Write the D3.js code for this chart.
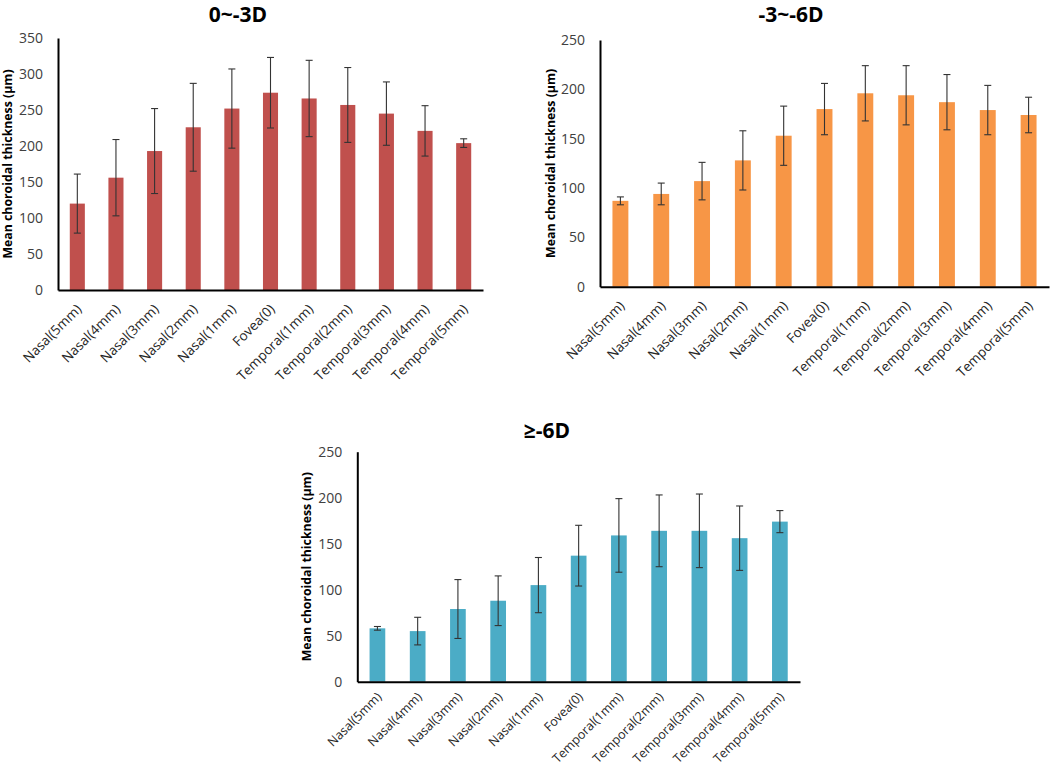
<!DOCTYPE html>
<html>
<head>
<meta charset="utf-8">
<script src="https://cdn.jsdelivr.net/npm/d3@7"></script>
<style>
  html, body { margin: 0; padding: 0; background: #ffffff; }
  svg { display: block; }
</style>
</head>
<body>
<svg id="chart" width="1050" height="774"></svg>
<script>
// ---------- data ----------
const categories = ["Nasal(5mm)", "Nasal(4mm)", "Nasal(3mm)", "Nasal(2mm)", "Nasal(1mm)",
  "Fovea(0)", "Temporal(1mm)", "Temporal(2mm)", "Temporal(3mm)", "Temporal(4mm)", "Temporal(5mm)"];

const mean0to3 = [120, 156, 193, 226, 252, 274, 266, 257, 245, 221, 204];
const sd0to3   = [41, 53, 59, 61, 55, 49, 53, 52, 44, 35, 6];

const mean3to6 = [87, 94, 107, 128, 153, 180, 196, 194, 187, 179, 174];
const sd3to6   = [4, 11, 19, 30, 30, 26, 28, 30, 28, 25, 18];

const mean6    = [58, 55, 79, 88, 105, 137, 159, 164, 164, 156, 174];
const sd6      = [2, 15, 32, 27, 30, 33, 40, 39, 40, 35, 12];

const ticks350 = [0, 50, 100, 150, 200, 250, 300, 350];
const ticks250 = [0, 50, 100, 150, 200, 250];

const titles = ["0~-3D", "-3~-6D", "\u2265-6D"];
const yLabel = "Mean choroidal thickness (\u00b5m)";

// ---------- layout ----------
const panels = [
  { title: titles[0], mean: mean0to3, sd: sd0to3, ticks: ticks350, color: "#C0504D",
    x0: 58, x1: 483, yTop: 38, yZero: 290, titleX: 238, titleY: 22, ylabX: 8, lab: 13.5, labDy: 20 },
  { title: titles[1], mean: mean3to6, sd: sd3to6, ticks: ticks250, color: "#F79646",
    x0: 600, x1: 1049, yTop: 40, yZero: 286.7, titleX: 791, titleY: 22, ylabX: 551, lab: 13.5, labDy: 20 },
  { title: titles[2], mean: mean6, sd: sd6, ticks: ticks250, color: "#4BACC6",
    x0: 357.3, x1: 800, yTop: 451.7, yZero: 681.7, titleX: 547, titleY: 438, ylabX: 307, lab: 12.5, labDy: 16 }
];

const svg = d3.select("#chart");
const font = "'Open Sans', 'DejaVu Sans', sans-serif";

panels.forEach(p => {
  const g = svg.append("g");
  const x = d3.scaleBand().domain(categories).range([p.x0, p.x1])
    .paddingInner(0.61).paddingOuter(0.305);
  const y = d3.scaleLinear().domain([0, d3.max(p.ticks)]).range([p.yZero, p.yTop]);

  // bars
  g.selectAll("rect.bar").data(categories).enter().append("rect")
    .attr("class", "bar")
    .attr("x", d => x(d))
    .attr("width", x.bandwidth())
    .attr("y", (d, i) => y(p.mean[i]))
    .attr("height", (d, i) => y(0) - y(p.mean[i]))
    .attr("fill", p.color);

  // error bars
  const cap = 3.5;
  const eb = g.selectAll("g.err").data(categories).enter().append("g").attr("class", "err")
    .attr("stroke", "#333333").attr("stroke-width", 1.1);
  eb.append("line")
    .attr("x1", d => x(d) + x.bandwidth() / 2).attr("x2", d => x(d) + x.bandwidth() / 2)
    .attr("y1", (d, i) => y(p.mean[i] + p.sd[i])).attr("y2", (d, i) => y(p.mean[i] - p.sd[i]));
  eb.append("line")
    .attr("x1", d => x(d) + x.bandwidth() / 2 - cap).attr("x2", d => x(d) + x.bandwidth() / 2 + cap)
    .attr("y1", (d, i) => y(p.mean[i] + p.sd[i])).attr("y2", (d, i) => y(p.mean[i] + p.sd[i]));
  eb.append("line")
    .attr("x1", d => x(d) + x.bandwidth() / 2 - cap).attr("x2", d => x(d) + x.bandwidth() / 2 + cap)
    .attr("y1", (d, i) => y(p.mean[i] - p.sd[i])).attr("y2", (d, i) => y(p.mean[i] - p.sd[i]));

  // y axis
  const ya = g.append("g").attr("transform", `translate(${p.x0},0)`)
    .call(d3.axisLeft(y).tickValues(p.ticks).tickSize(0).tickPadding(15));
  ya.select(".domain").attr("stroke", "#000").attr("stroke-width", 2);
  ya.selectAll("text").attr("font-family", font).attr("font-size", 14).attr("fill", "#404040");

  // x axis
  const xa = g.append("g").attr("transform", `translate(0,${p.yZero})`)
    .call(d3.axisBottom(x).tickSize(0).tickSizeOuter(0));
  xa.select(".domain").attr("stroke", "#000").attr("stroke-width", 2);
  xa.selectAll("text")
    .attr("font-family", font).attr("font-size", p.lab).attr("fill", "#262626")
    .attr("text-anchor", "end")
    .attr("dy", null).attr("y", null)
    .attr("transform", `translate(5,${p.labDy}) rotate(-45)`);

  // title
  g.append("text").attr("x", p.titleX).attr("y", p.titleY)
    .attr("text-anchor", "middle").attr("font-family", font)
    .attr("font-weight", "bold").attr("font-size", 21).attr("fill", "#000")
    .text(p.title);

  // y label
  g.append("text")
    .attr("transform", `translate(${p.ylabX},${(p.yTop + p.yZero) / 2}) rotate(-90)`)
    .attr("text-anchor", "middle").attr("dy", "0.35em")
    .attr("font-family", font).attr("font-weight", "bold").attr("font-size", 12.3)
    .attr("fill", "#000")
    .text(yLabel);
});
</script>
</body>
</html>
